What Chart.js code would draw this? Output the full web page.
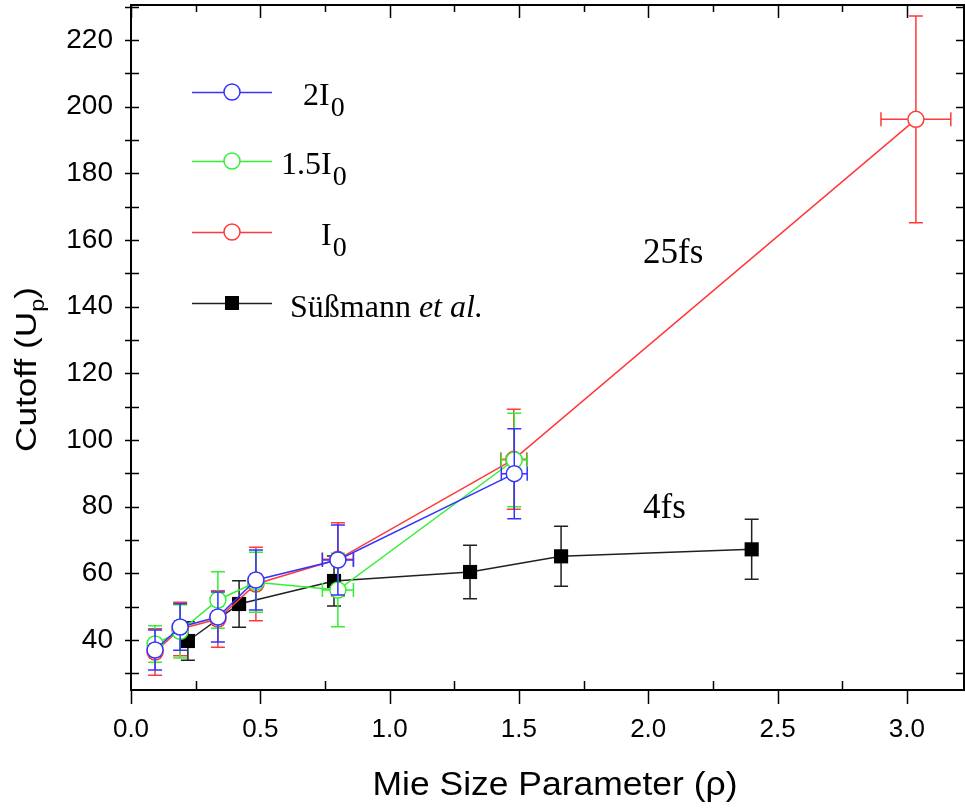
<!DOCTYPE html>
<html><head><meta charset="utf-8">
<script src="https://cdn.jsdelivr.net/npm/chart.js@4"></script>
<style>html,body{margin:0;padding:0;background:#fff}</style>
</head><body>
<div style="width:965px;height:810px"><canvas id="c" width="965" height="810"></canvas></div>
<script>
// ---- data ----
const xTickValues = [0, 0.5, 1.0, 1.5, 2.0, 2.5, 3.0];
const yTickValues = [40, 60, 80, 100, 120, 140, 160, 180, 200, 220];

const x2I0 = [0.093, 0.19, 0.336, 0.483, 0.80, 1.482];
const y2I0 = [37.0, 43.9, 46.9, 58.0, 64.0, 89.9];
const yErr2I0 = [6, 7, 7.5, 9, 10.5, 13.5];
const xErr2I0 = [0.02, 0.02, 0.02, 0.02, 0.06, 0.05];

const x15I0 = [0.093, 0.19, 0.336, 0.483, 0.80, 1.482];
const y15I0 = [38.8, 42.6, 52.0, 57.3, 55.0, 94.0];
const yErr15I0 = [5.5, 8, 8.5, 9, 11, 14];
const xErr15I0 = [0.02, 0.02, 0.02, 0.02, 0.06, 0.05];

const xI0 = [0.093, 0.19, 0.336, 0.483, 0.80, 1.48, 3.035];
const yI0 = [36.4, 43.3, 46.3, 56.8, 64.2, 94.2, 196.2];
const yErrI0 = [7, 8, 8.5, 11, 11, 15, 31];
const xErrI0 = [0.02, 0.02, 0.02, 0.02, 0.06, 0.05, 0.135];

const xSus = [0.22, 0.418, 0.785, 1.311, 1.663, 2.40];
const ySus = [39.7, 50.8, 57.7, 60.4, 65.1, 67.2];
const yErrSus = [5.8, 7, 7.5, 8, 9, 9];

const BLUE = '#3434ff', GREEN = '#35ee35', RED = '#ff3a3a', BLACK = '#202020';

function pts(xs, ys) { return xs.map((x, i) => ({x: x, y: ys[i]})); }

function circleSet(label, xs, ys, ye, xe, color) {
  return {
    label, data: pts(xs, ys), yErr: ye, xErr: xe,
    borderColor: color, backgroundColor: '#ffffff',
    pointBorderColor: color, pointBackgroundColor: '#ffffff',
    pointRadius: 8, pointBorderWidth: 1.5, borderWidth: 1.5,
    showLine: true, tension: 0
  };
}

const datasets = [
  circleSet('2I0', x2I0, y2I0, yErr2I0, xErr2I0, BLUE),
  circleSet('1.5I0', x15I0, y15I0, yErr15I0, xErr15I0, GREEN),
  circleSet('I0', xI0, yI0, yErrI0, xErrI0, RED),
  {
    label: 'Süßmann et al.', data: pts(xSus, ySus), yErr: yErrSus, xErr: null,
    borderColor: BLACK, backgroundColor: '#000', pointBackgroundColor: '#000',
    pointBorderColor: '#000', pointStyle: 'rect', pointRadius: 10, pointBorderWidth: 0,
    borderWidth: 1.5, showLine: true, tension: 0
  }
];

// ---- error bars ----
const errPlugin = {
  id: 'errbars',
  beforeDatasetDraw(chart, args) {
    const ds = chart.data.datasets[args.index];
    const xs = chart.scales.x, ys = chart.scales.y, ctx = chart.ctx;
    ctx.save();
    ctx.strokeStyle = ds.borderColor; ctx.lineWidth = 1.5;
    ds.data.forEach((p, i) => {
      const px = xs.getPixelForValue(p.x), py = ys.getPixelForValue(p.y);
      const e = ds.yErr ? ds.yErr[i] : 0;
      if (e) {
        const t = ys.getPixelForValue(p.y + e), b = ys.getPixelForValue(p.y - e);
        ctx.beginPath();
        ctx.moveTo(px, t); ctx.lineTo(px, b);
        ctx.moveTo(px - 7, t); ctx.lineTo(px + 7, t);
        ctx.moveTo(px - 7, b); ctx.lineTo(px + 7, b);
        ctx.stroke();
      }
      const xe = ds.xErr ? ds.xErr[i] : 0;
      if (xe) {
        const l = xs.getPixelForValue(p.x - xe), r = xs.getPixelForValue(p.x + xe);
        ctx.beginPath();
        ctx.moveTo(l, py); ctx.lineTo(r, py);
        ctx.moveTo(l, py - 7); ctx.lineTo(l, py + 7);
        ctx.moveTo(r, py - 7); ctx.lineTo(r, py + 7);
        ctx.stroke();
      }
    });
    ctx.restore();
  }
};

// ---- frame, ticks, titles, legend, annotations ----
function drawSub(ctx, x, y, main, sub, font, subFont, dy) {
  ctx.font = font; ctx.fillText(main, x, y);
  const w = ctx.measureText(main).width;
  ctx.font = subFont; ctx.fillText(sub, x + w + 1, y + dy);
}

const decoPlugin = {
  id: 'deco',
  afterDraw(chart) {
    const ctx = chart.ctx, a = chart.chartArea, xs = chart.scales.x, ys = chart.scales.y;
    ctx.save();
    ctx.strokeStyle = '#000'; ctx.lineWidth = 2;
    ctx.strokeRect(a.left, a.top, a.right - a.left, a.bottom - a.top);
    ctx.lineWidth = 1.5;
    ctx.beginPath();
    // x ticks
    for (let v = 0; v <= 3.2; v += 0.25) {
      const px = Math.round(xs.getPixelForValue(v)) + 0.5;
      const major = Math.abs(v * 2 - Math.round(v * 2)) < 1e-6;
      if (major) {
        ctx.moveTo(px, a.bottom); ctx.lineTo(px, a.bottom + 14);
        ctx.moveTo(px, a.top); ctx.lineTo(px, a.top + 13);
      } else {
        ctx.moveTo(px, a.bottom); ctx.lineTo(px, a.bottom - 9);
        ctx.moveTo(px, a.top); ctx.lineTo(px, a.top + 7);
      }
    }
    // y ticks
    for (let v = 30; v <= 230; v += 10) {
      const py = Math.round(ys.getPixelForValue(v)) + 0.5;
      ctx.moveTo(a.left - 6, py); ctx.lineTo(a.left + 8, py);
      ctx.moveTo(a.right, py); ctx.lineTo(a.right - 8, py);
    }
    ctx.stroke();

    ctx.fillStyle = '#000';
    // y title (rotated)
    ctx.save();
    ctx.translate(36, 452);
    ctx.rotate(-Math.PI / 2);
    ctx.font = '30px "Liberation Sans", Arial, sans-serif';
    const m1 = ctx.measureText('Cutoff (U').width;
    ctx.font = '20px "Liberation Sans", Arial, sans-serif';
    const m2 = ctx.measureText('p').width;
    ctx.font = '30px "Liberation Sans", Arial, sans-serif';
    const m3 = ctx.measureText(')').width;
    const sc = 165 / (m1 + m2 + m3);
    ctx.scale(sc, 1);
    ctx.textBaseline = 'alphabetic';
    ctx.fillText('Cutoff (U', 0, 0);
    ctx.font = '20px "Liberation Sans", Arial, sans-serif';
    ctx.fillText('p', m1, 8);
    ctx.font = '30px "Liberation Sans", Arial, sans-serif';
    ctx.fillText(')', m1 + m2, 0);
    ctx.restore();

    // x title
    ctx.save();
    ctx.font = '33px "Liberation Sans", Arial, sans-serif';
    const xt = 'Mie Size Parameter (ρ)';
    const xw = ctx.measureText(xt).width;
    ctx.translate(555, 795);
    ctx.scale(365 / xw, 1);
    ctx.textAlign = 'center';
    ctx.fillText(xt, 0, 0);
    ctx.restore();

    // legend
    const legendRows = [
      {y: 92, color: BLUE, sq: false, x: 303, main: '2I', sub: '0'},
      {y: 161, color: GREEN, sq: false, x: 281, main: '1.5I', sub: '0'},
      {y: 232, color: RED, sq: false, x: 321, main: 'I', sub: '0'},
      {y: 303, color: BLACK, sq: true, x: 290}
    ];
    const serif = '"Liberation Serif", "Times New Roman", serif';
    legendRows.forEach(r => {
      ctx.strokeStyle = r.color; ctx.lineWidth = 1.5;
      ctx.beginPath(); ctx.moveTo(192, r.y + 0.5); ctx.lineTo(272, r.y + 0.5); ctx.stroke();
      if (r.sq) {
        ctx.fillStyle = '#000'; ctx.fillRect(225, r.y - 7, 14, 14);
      } else {
        ctx.fillStyle = '#fff'; ctx.beginPath(); ctx.arc(232, r.y, 8, 0, Math.PI * 2); ctx.fill(); ctx.stroke();
      }
      ctx.fillStyle = '#000'; ctx.textAlign = 'left'; ctx.textBaseline = 'alphabetic';
      if (r.sq) {
        ctx.font = '32px ' + serif; ctx.fillText('Süßmann ', r.x, r.y + 14);
        const w = ctx.measureText('Süßmann ').width;
        ctx.font = 'italic 32px ' + serif; ctx.fillText('et al.', r.x + w, r.y + 14);
      } else {
        drawSub(ctx, r.x, r.y + 13, r.main, r.sub, '32px ' + serif, '28px ' + serif, 11);
      }
    });

    // annotations
    ctx.font = '35px ' + serif;
    ctx.fillText('25fs', 643, 263);
    ctx.fillText('4fs', 643, 518);
    ctx.restore();
  }
};

function zeroPad(s) { s.paddingTop = 0; s.paddingBottom = 0; s.paddingLeft = 0; s.paddingRight = 0; }

new Chart(document.getElementById('c'), {
  type: 'scatter',
  data: {datasets},
  options: {
    responsive: false, animation: false, events: [],
    layout: {autoPadding: false, padding: {top: 5, right: 1, left: 0, bottom: 0}},
    plugins: {legend: {display: false}, tooltip: {enabled: false}},
    scales: {
      x: {
        type: 'linear', min: 0, max: 3.221,
        afterFit: s => { s.height = 120; zeroPad(s); },
        afterBuildTicks: ax => { ax.ticks = xTickValues.map(v => ({value: v})); },
        grid: {display: false, drawTicks: false}, border: {display: false},
        ticks: {
          autoSkip: false, maxRotation: 0, padding: 24, color: '#000',
          font: {family: '"Liberation Sans", Arial, sans-serif', size: 26},
          callback: v => Number(v).toFixed(1)
        }
      },
      y: {
        type: 'linear', min: 25, max: 230.5,
        afterFit: s => { s.width = 131; zeroPad(s); },
        afterBuildTicks: ax => { ax.ticks = yTickValues.map(v => ({value: v})); },
        grid: {display: false, drawTicks: false}, border: {display: false},
        ticks: {
          autoSkip: false, padding: 18, color: '#000',
          font: {family: '"Liberation Sans", Arial, sans-serif', size: 28},
          callback: v => String(v)
        }
      }
    }
  },
  plugins: [errPlugin, decoPlugin]
});
</script>
</body></html>
